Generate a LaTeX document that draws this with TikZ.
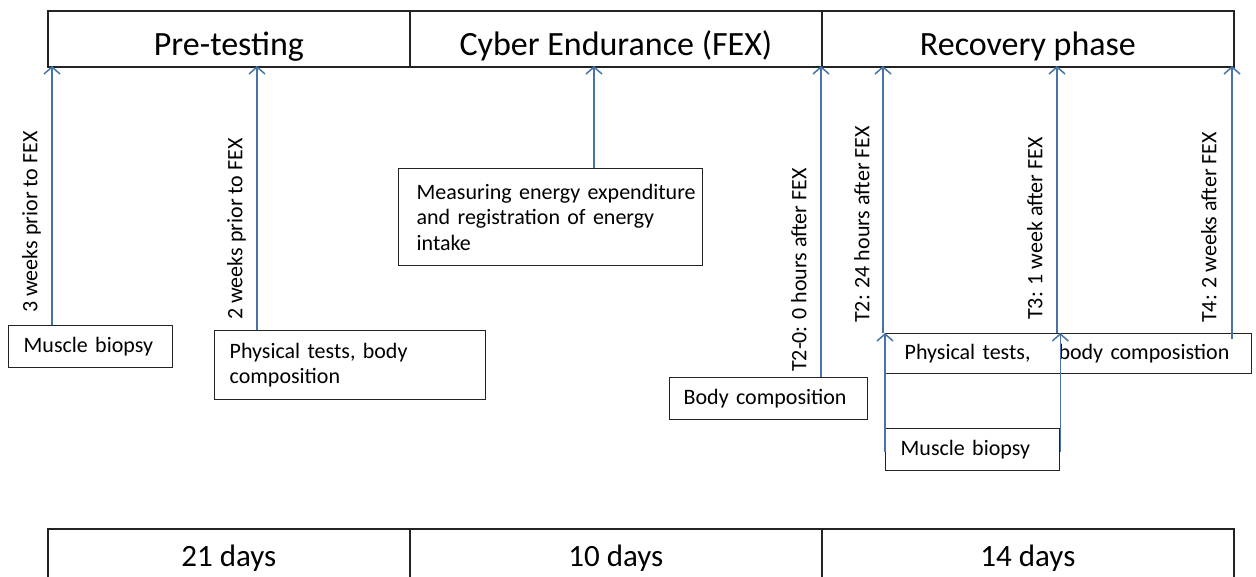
\documentclass[tikz,border=0pt]{standalone}
\usepackage{fontspec}
\setmainfont{Carlito}
\usetikzlibrary{arrows.meta}
\definecolor{arrblue}{RGB}{70,116,168}
\definecolor{boxline}{RGB}{35,35,35}
\begin{document}
\begin{tikzpicture}[x=1pt,y=-1pt,
  phase/.style={draw=boxline,line width=1.8pt,minimum height=56pt,inner sep=0pt,anchor=north west,
    font=\fontsize{34}{38}\selectfont,text height=40pt,text depth=6pt},
  dur/.style={draw=boxline,line width=1.8pt,minimum height=60pt,inner sep=0pt,anchor=north west,
    font=\fontsize{31}{34}\selectfont,text height=24pt,text depth=8pt},
  box/.style={draw=boxline,line width=1.3pt,fill=white,inner ysep=0pt,anchor=north west,align=left,
    font=\fontsize{22}{25.5}\selectfont},
  vlabel/.style={rotate=90,anchor=mid west,inner sep=0pt,font=\fontsize{22}{25}\selectfont},
  arr/.style={draw=arrblue,line width=1.5pt,-{Straight Barb[length=7pt,width=16pt,line width=1.5pt]}}]
\useasboundingbox (0,0) rectangle (1256,576);
\fill[white] (0,0) rectangle (1256,576);
% top phase bar
\node[phase,minimum width=362pt] (pre) at (47,10) {Pre-testing};
\node[phase,minimum width=412pt] (fex) at (409,10) {Cyber Endurance (FEX)};
\node[phase,minimum width=412pt] (rec) at (821,10) {Recovery phase};
% bottom durations
\begin{scope}
\clip (0,0) rectangle (1256,576);
\node[dur,minimum width=362pt] (d1) at (47,528) {21 days};
\node[dur,minimum width=412pt] (d2) at (409,528) {10 days};
\node[dur,minimum width=412pt] (d3) at (821,528) {14 days};
\end{scope}
% boxes
\node[box,minimum width=164pt,minimum height=42pt,inner xsep=15pt,text width=134pt] (mbA) at (8,325) {Muscle biopsy};
\node[box,minimum width=271pt,minimum height=69pt,inner xsep=15pt,text width=241pt] (ptA) at (214,330) {\mbox{Physical tests, body}\\composition};
\node[box,minimum width=304pt,minimum height=97pt,inner xsep=18pt,text width=268pt] (meas) at (398,168) {\mbox{Measuring energy expenditure}\\\mbox{and registration of energy}\\intake};
\node[box,minimum width=198pt,minimum height=42pt,inner xsep=14pt,text width=170pt] (bc) at (669,377) {\mbox{Body composition}};
\node[box,minimum width=366pt,minimum height=40pt,inner xsep=19pt,text width=328pt] (ptB) at (885,333) {\mbox{Physical tests,\hspace{28pt}body composistion}};
\node[box,minimum width=174pt,minimum height=42pt,inner xsep=15pt,text width=144pt] (mbB) at (885,428) {\mbox{Muscle biopsy}};
% arrow targets on the bar
\coordinate (t1) at (52,66);
\coordinate (t2) at (257,66);
\coordinate (t3) at (594,66);
\coordinate (t4) at (821,66);
\coordinate (t5) at (883,66);
\coordinate (t6) at (1057,66);
\coordinate (t7) at (1232,66);
% arrows
\draw[arr] (t1 |- mbA.north) -- (t1);
\draw[arr] (t2 |- ptA.north) -- (t2);
\draw[arr] (t3 |- meas.north) -- (t3);
\draw[arr] (t4 |- bc.north) -- (t4);
\draw[arr] (t5 |- ptB.north) -- (t5);
\draw[arr] (t6 |- ptB.north) -- (t6);
\draw[arr] ([yshift=-6pt]t7 |- ptB.north) -- (t7);
\draw[arr] ([yshift=-2pt]mbB.west) -- (ptB.north west);
\draw[arr] ([yshift=-2pt]mbB.east) -- (mbB.east |- ptB.north);
% rotated labels
\node[vlabel] (l1) at (35,313) {3 weeks prior to FEX};
\node[vlabel] (l2) at (240,320) {2 weeks prior to FEX};
\node[vlabel] (l3) at (804,372) {T2-0: 0 hours after FEX};
\node[vlabel] (l4) at (867,323) {T2: 24 hours after FEX};
\node[vlabel] (l5) at (1040,320) {T3: 1 week after FEX};
\node[vlabel] (l6) at (1214,323) {T4: 2 weeks after FEX};
\end{tikzpicture}
\end{document}
